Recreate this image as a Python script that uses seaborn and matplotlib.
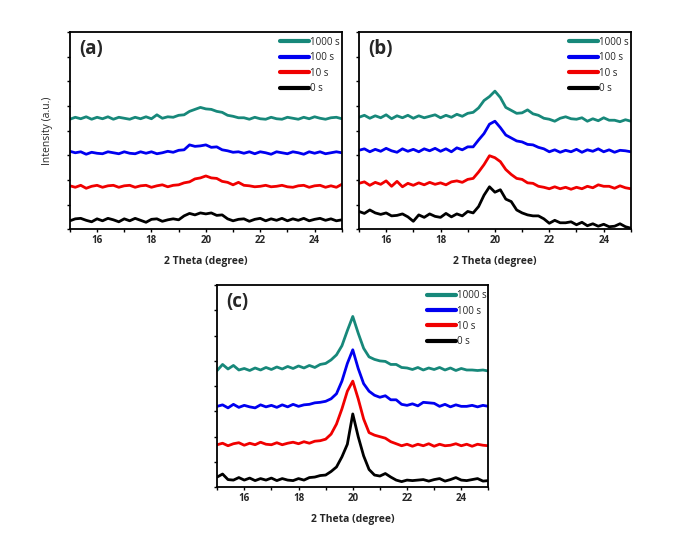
import matplotlib
matplotlib.use("Agg")
import matplotlib.pyplot as plt
import numpy as np
import pandas as pd
import seaborn as sns


# --------- Values --------- #
TWO_THETA = np.linspace(15, 25, 51)  # 2 theta grid (degree), step 0.2
TIMES = ["1000 s", "100 s", "10 s", "0 s"]
COLORS = {"1000 s": "#17887a", "100 s": "#0000f0", "10 s": "#f00000", "0 s": "#000000"}
PANELS = ["(a)", "(b)", "(c)"]

# panel (a)
A_0S = [0.17, 0.21, 0.22, 0.18, 0.15, 0.21, 0.17, 0.22, 0.19, 0.15, 0.21, 0.17, 0.22, 0.18, 0.14, 0.20, 0.21, 0.16, 0.19, 0.21,
        0.19, 0.27, 0.32, 0.29, 0.33, 0.31, 0.33, 0.28, 0.29, 0.21, 0.17, 0.20,
        0.21, 0.16, 0.20, 0.22, 0.17, 0.21, 0.18, 0.22, 0.17, 0.21, 0.18, 0.22, 0.17, 0.20, 0.22, 0.18, 0.21, 0.17, 0.19]
A_10S = [0.88, 0.85, 0.89, 0.83, 0.87, 0.89, 0.85, 0.88, 0.89, 0.85, 0.88, 0.89, 0.85, 0.88, 0.89, 0.85, 0.88, 0.90, 0.86, 0.89,
         0.90, 0.94, 0.96, 1.02, 1.04, 1.08, 1.04, 1.03, 0.97, 0.95, 0.90, 0.95,
         0.89, 0.88, 0.86, 0.87, 0.89, 0.86, 0.87, 0.89, 0.86, 0.85, 0.88, 0.89, 0.85, 0.88, 0.89, 0.85, 0.88, 0.85, 0.91]
A_100S = [1.58, 1.55, 1.57, 1.52, 1.56, 1.54, 1.53, 1.57, 1.55, 1.53, 1.57, 1.54, 1.53, 1.57, 1.54, 1.57, 1.53, 1.55, 1.58, 1.56,
          1.60, 1.61, 1.71, 1.68, 1.69, 1.71, 1.66, 1.67, 1.61, 1.59, 1.56, 1.57,
          1.54, 1.57, 1.53, 1.57, 1.55, 1.52, 1.57, 1.55, 1.53, 1.57, 1.55, 1.52, 1.57, 1.54, 1.57, 1.53, 1.55, 1.57, 1.55]
A_1000S = [2.23, 2.27, 2.24, 2.28, 2.23, 2.27, 2.24, 2.28, 2.23, 2.27, 2.25, 2.23, 2.27, 2.24, 2.28, 2.24, 2.32, 2.25, 2.28, 2.27,
           2.31, 2.32, 2.39, 2.43, 2.47, 2.44, 2.43, 2.39, 2.37, 2.31, 2.29, 2.26,
           2.26, 2.23, 2.27, 2.24, 2.23, 2.27, 2.24, 2.23, 2.27, 2.25, 2.23, 2.27, 2.24, 2.28, 2.25, 2.23, 2.26, 2.27, 2.24]

# panel (b)
B_0S = [0.36, 0.32, 0.39, 0.33, 0.30, 0.33, 0.27, 0.28, 0.31, 0.25, 0.16, 0.29, 0.24, 0.31, 0.26, 0.24, 0.32, 0.25, 0.31, 0.27,
        0.36, 0.33, 0.46, 0.69, 0.86, 0.75, 0.80, 0.61, 0.56, 0.39, 0.33, 0.29,
        0.27, 0.27, 0.21, 0.12, 0.18, 0.13, 0.13, 0.15, 0.09, 0.14, 0.07, 0.11, 0.06, 0.10, 0.05, 0.06, 0.11, 0.05, 0.02]
B_10S = [0.93, 0.96, 0.89, 0.95, 0.91, 0.98, 0.87, 0.97, 0.86, 0.93, 0.89, 0.94, 0.90, 0.95, 0.91, 0.94, 0.90, 0.96, 0.98, 0.95,
         1.01, 1.03, 1.16, 1.31, 1.49, 1.45, 1.37, 1.21, 1.11, 1.03, 1.01, 0.94,
         0.93, 0.87, 0.85, 0.82, 0.86, 0.82, 0.85, 0.81, 0.85, 0.82, 0.87, 0.84, 0.90, 0.87, 0.87, 0.83, 0.88, 0.84, 0.82]
B_100S = [1.60, 1.63, 1.57, 1.62, 1.58, 1.64, 1.59, 1.56, 1.63, 1.58, 1.62, 1.57, 1.63, 1.59, 1.64, 1.58, 1.63, 1.57, 1.65, 1.61,
          1.67, 1.67, 1.81, 1.94, 2.13, 2.19, 2.06, 1.91, 1.85, 1.79, 1.77, 1.72,
          1.71, 1.66, 1.63, 1.57, 1.61, 1.56, 1.60, 1.57, 1.62, 1.56, 1.61, 1.58, 1.63, 1.57, 1.61, 1.56, 1.60, 1.59, 1.57]
B_1000S = [2.27, 2.31, 2.25, 2.30, 2.26, 2.32, 2.24, 2.30, 2.26, 2.31, 2.25, 2.30, 2.26, 2.29, 2.32, 2.26, 2.31, 2.27, 2.33, 2.29,
           2.35, 2.37, 2.46, 2.61, 2.69, 2.80, 2.67, 2.47, 2.41, 2.35, 2.36, 2.42,
           2.34, 2.31, 2.25, 2.23, 2.19, 2.25, 2.28, 2.24, 2.23, 2.26, 2.19, 2.24, 2.20, 2.26, 2.21, 2.21, 2.18, 2.22, 2.19]

# panel (c)
C_0S = [0.20, 0.26, 0.15, 0.14, 0.19, 0.14, 0.18, 0.13, 0.17, 0.14, 0.18, 0.13, 0.17, 0.14, 0.13, 0.17, 0.14, 0.19, 0.20, 0.23,
        0.24, 0.31, 0.40, 0.60, 0.85, 1.45, 1.00, 0.62, 0.35, 0.24, 0.22, 0.27,
        0.20, 0.14, 0.11, 0.14, 0.13, 0.14, 0.15, 0.12, 0.15, 0.17, 0.12, 0.15, 0.19, 0.14, 0.13, 0.15, 0.17, 0.12, 0.13]
C_10S = [0.84, 0.87, 0.82, 0.86, 0.88, 0.83, 0.87, 0.84, 0.89, 0.85, 0.84, 0.88, 0.84, 0.87, 0.89, 0.86, 0.90, 0.87, 0.91, 0.92,
         0.95, 1.05, 1.25, 1.55, 1.90, 2.10, 1.75, 1.35, 1.08, 1.03, 1.00, 0.97,
         0.90, 0.86, 0.82, 0.85, 0.81, 0.85, 0.82, 0.86, 0.81, 0.85, 0.82, 0.83, 0.86, 0.82, 0.85, 0.81, 0.85, 0.83, 0.82]
C_100S = [1.60, 1.63, 1.57, 1.64, 1.58, 1.62, 1.59, 1.57, 1.63, 1.59, 1.62, 1.58, 1.63, 1.59, 1.64, 1.60, 1.63, 1.64, 1.67, 1.68,
          1.70, 1.75, 1.85, 2.10, 2.45, 2.72, 2.35, 2.05, 1.90, 1.82, 1.78, 1.81,
          1.73, 1.73, 1.64, 1.62, 1.65, 1.61, 1.68, 1.67, 1.66, 1.60, 1.64, 1.59, 1.63, 1.60, 1.60, 1.62, 1.59, 1.62, 1.60]
C_1000S = [2.31, 2.43, 2.34, 2.41, 2.32, 2.35, 2.31, 2.36, 2.32, 2.37, 2.33, 2.38, 2.34, 2.39, 2.35, 2.40, 2.36, 2.41, 2.37, 2.43,
           2.45, 2.52, 2.62, 2.80, 3.10, 3.38, 3.05, 2.75, 2.58, 2.53, 2.50, 2.49,
           2.43, 2.43, 2.37, 2.36, 2.33, 2.37, 2.32, 2.36, 2.33, 2.37, 2.32, 2.36, 2.31, 2.35, 2.32, 2.32, 2.31, 2.32, 2.30]

PANEL_DATA = {
    "(a)": {"1000 s": A_1000S, "100 s": A_100S, "10 s": A_10S, "0 s": A_0S},
    "(b)": {"1000 s": B_1000S, "100 s": B_100S, "10 s": B_10S, "0 s": B_0S},
    "(c)": {"1000 s": C_1000S, "100 s": C_100S, "10 s": C_10S, "0 s": C_0S},
}

# axes boxes in figure fractions [left, bottom, width, height]
AXES_POS = {
    "(a)": [0.102, 0.570, 0.397, 0.370],
    "(b)": [0.524, 0.570, 0.397, 0.370],
    "(c)": [0.317, 0.086, 0.396, 0.379],
}


# --------- Build long table for one panel --------- #
def panel_frame(panel):
    rows = []
    for t in TIMES:
        for x, y in zip(TWO_THETA, PANEL_DATA[panel][t]):
            rows.append((x, y, t))
    return pd.DataFrame(rows, columns=["two_theta", "intensity", "time"])


# --------- Plot one panel --------- #
def plot_panel(fig, panel):
    ax = fig.add_axes(AXES_POS[panel])
    df = panel_frame(panel)
    sns.lineplot(data=df, x="two_theta", y="intensity", hue="time", hue_order=TIMES,
                 palette=COLORS, linewidth=2.0, errorbar=None, sort=False, ax=ax)

    ax.set_xlim(15, 25)
    ax.set_ylim(0, 4)
    ax.set_xticks([16, 18, 20, 22, 24])
    ax.set_xticks([15, 17, 19, 21, 23, 25], minor=True)
    ax.set_yticks(np.arange(0, 4.01, 0.5))
    ax.set_yticklabels([])
    ax.tick_params(axis="both", which="both", direction="out", length=2.5, width=1, color="black")
    ax.tick_params(axis="x", labelsize=7, pad=2)
    for lbl in ax.get_xticklabels():
        lbl.set_fontweight("bold")

    for sp in ax.spines.values():
        sp.set_visible(True)
        sp.set_linewidth(1.3)
        sp.set_color("black")

    ax.set_xlabel("2 Theta (degree)", fontsize=7.5, fontweight="bold")
    ax.xaxis.set_label_coords(0.5, -0.135)
    if panel == "(a)":
        ax.set_ylabel("Intensity (a.u.)", fontsize=7.5)
        ax.yaxis.set_label_coords(-0.062, 0.5)
    else:
        ax.set_ylabel("")

    ax.text(0.035, 0.965, panel, transform=ax.transAxes, fontsize=13.5, fontweight="bold",
            ha="left", va="top")

    handles, labels = ax.get_legend_handles_labels()
    leg = ax.legend(handles, labels, loc="upper right", bbox_to_anchor=(1.0, 0.985),
                    frameon=False, fontsize=7, handlelength=3.0, handletextpad=0.1,
                    labelspacing=0.45, borderaxespad=0, borderpad=0.2)
    for line in leg.get_lines():
        line.set_linewidth(3)
    return ax


if __name__ == "__main__":
    sns.set_style("ticks")
    plt.rcParams["font.family"] = ["Open Sans", "DejaVu Sans"]

    fig = plt.figure(figsize=(6.85, 5.33), dpi=100)
    for p in PANELS:
        plot_panel(fig, p)
    fig.savefig("out.png", dpi=100)
